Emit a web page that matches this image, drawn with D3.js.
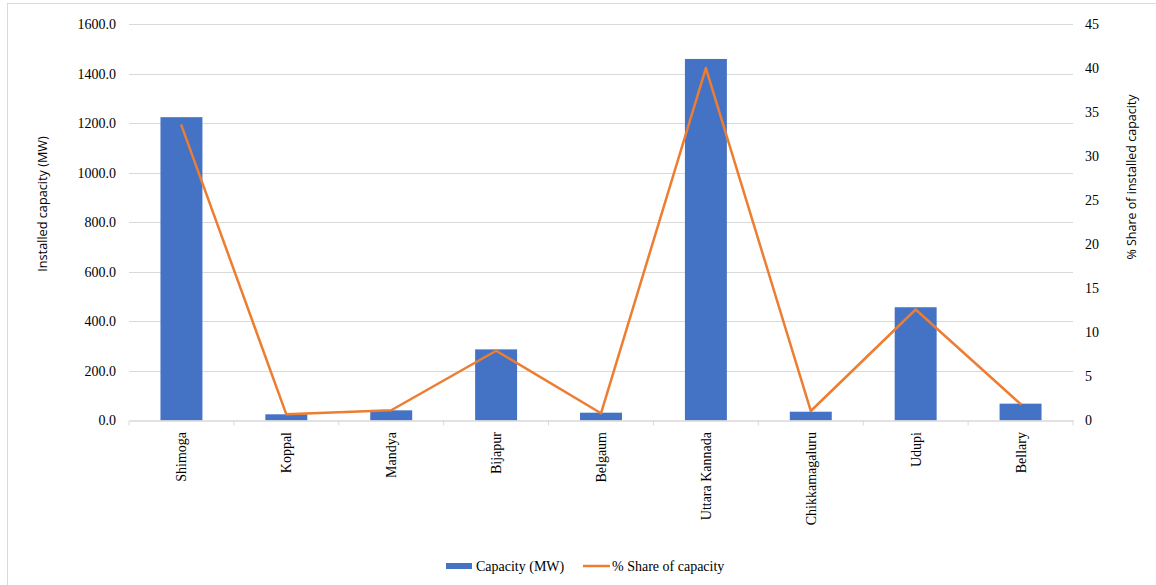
<!DOCTYPE html>
<html>
<head>
<meta charset="utf-8">
<script src="https://cdn.jsdelivr.net/npm/d3@7"></script>
<style>
  html, body { margin: 0; padding: 0; background: #fff; }
  svg { display: block; }
</style>
</head>
<body>
<svg id="chart" width="1156" height="585"></svg>
<script>
// Districts and their installed hydro capacity
const districts = ["Shimoga", "Koppal", "Mandya", "Bijapur", "Belgaum",
                   "Uttara Kannada", "Chikkamagaluru", "Udupi", "Bellary"];
const capacityMW = [1224, 25, 41, 287, 31.5, 1459, 35.5, 457, 68];
const sharePct = [33.5, 0.7, 1.16, 7.92, 0.82, 40.0, 1.08, 12.6, 1.87];
const leftTicks = [0, 200, 400, 600, 800, 1000, 1200, 1400, 1600];
const rightTicks = [0, 5, 10, 15, 20, 25, 30, 35, 40, 45];

const svg = d3.select("#chart");
const W = 1156, H = 585;
const m = { left: 129, right: 1073, top: 24, bottom: 420.5 };

const serif = "'Liberation Serif', 'DejaVu Serif', serif";
const sans = "'Open Sans', 'Liberation Sans', sans-serif";

// Chart area frame
svg.append("rect")
  .attr("x", 7.5).attr("y", 3.5)
  .attr("width", W + 10).attr("height", H + 10)
  .attr("fill", "#fff").attr("stroke", "#d9d9d9").attr("stroke-width", 1);

const x = d3.scaleBand().domain(districts).range([m.left, m.right]).paddingInner(0).paddingOuter(0);
const yL = d3.scaleLinear().domain([0, 1600]).range([m.bottom, m.top]);
const yR = d3.scaleLinear().domain([0, 45]).range([m.bottom, m.top]);

// Horizontal gridlines
svg.append("g").selectAll("line").data(leftTicks.filter(d => d > 0)).join("line")
  .attr("x1", m.left).attr("x2", m.right)
  .attr("y1", d => Math.round(yL(d)) + 0.5).attr("y2", d => Math.round(yL(d)) + 0.5)
  .attr("stroke", "#d9d9d9").attr("stroke-width", 1);

// Bars
const bw = x.bandwidth() / 2.5;
svg.append("g").selectAll("rect").data(districts).join("rect")
  .attr("x", (d) => x(d) + (x.bandwidth() - bw) / 2)
  .attr("width", bw)
  .attr("y", (d, i) => yL(capacityMW[i]))
  .attr("height", (d, i) => yL(0) - yL(capacityMW[i]))
  .attr("fill", "#4472C4");

// Category axis
const xAxis = svg.append("g").attr("transform", `translate(0,${m.bottom})`)
  .call(d3.axisBottom(x).tickSize(0).tickFormat(""));
xAxis.select(".domain").attr("stroke", "#d9d9d9").attr("stroke-width", 1.3);
const boundaries = districts.map(d => x(d)).concat([m.right]);
svg.append("g").selectAll("line").data(boundaries).join("line")
  .attr("x1", d => d).attr("x2", d => d)
  .attr("y1", m.bottom).attr("y2", m.bottom + 5)
  .attr("stroke", "#d9d9d9").attr("stroke-width", 1);

// Category labels, rotated
svg.append("g").selectAll("text").data(districts).join("text")
  .attr("transform", d => `translate(${x(d) + x.bandwidth() / 2 + 5},432) rotate(-90)`)
  .attr("text-anchor", "end")
  .attr("font-family", serif).attr("font-size", 14).attr("fill", "#000")
  .text(d => d);

// Share line
const line = d3.line()
  .x((d, i) => x(districts[i]) + x.bandwidth() / 2)
  .y(d => yR(d));
svg.append("path").datum(sharePct)
  .attr("d", line)
  .attr("fill", "none").attr("stroke", "#ED7D31")
  .attr("stroke-width", 2.5).attr("stroke-linejoin", "round").attr("stroke-linecap", "round");

// Left axis labels
const yAxisL = svg.append("g").attr("transform", `translate(${m.left},0)`)
  .call(d3.axisLeft(yL).tickValues(leftTicks).tickSize(0).tickPadding(13)
        .tickFormat(d3.format(".1f")));
yAxisL.select(".domain").remove();
yAxisL.selectAll("text").attr("font-family", serif).attr("font-size", 14).attr("fill", "#000");

// Right axis labels
const yAxisR = svg.append("g").attr("transform", `translate(${m.right},0)`)
  .call(d3.axisRight(yR).tickValues(rightTicks).tickSize(0).tickPadding(12));
yAxisR.select(".domain").remove();
yAxisR.selectAll("text").attr("font-family", serif).attr("font-size", 14).attr("fill", "#000");

// Axis titles
svg.append("text")
  .attr("transform", "translate(47,204) rotate(-90)")
  .attr("text-anchor", "middle")
  .attr("font-family", sans).attr("font-size", 12.7).attr("fill", "#000")
  .text("Installed capacity (MW)");
svg.append("text")
  .attr("transform", "translate(1136,177) rotate(-90)")
  .attr("text-anchor", "middle")
  .attr("font-family", sans).attr("font-size", 12.5).attr("fill", "#000")
  .text("% Share of installed capacity");

// Legend
const lg = svg.append("g").attr("transform", "translate(0,566)");
lg.append("rect").attr("x", 446).attr("y", -3).attr("width", 26).attr("height", 6).attr("fill", "#4472C4");
lg.append("text").attr("x", 476).attr("y", 4.5)
  .attr("font-family", serif).attr("font-size", 14).attr("fill", "#000")
  .text("Capacity (MW)");
lg.append("line").attr("x1", 583).attr("x2", 610).attr("y1", 0).attr("y2", 0)
  .attr("stroke", "#ED7D31").attr("stroke-width", 2.5);
lg.append("text").attr("x", 612).attr("y", 4.5)
  .attr("font-family", serif).attr("font-size", 14).attr("fill", "#000")
  .text("% Share of capacity");
</script>
</body>
</html>
